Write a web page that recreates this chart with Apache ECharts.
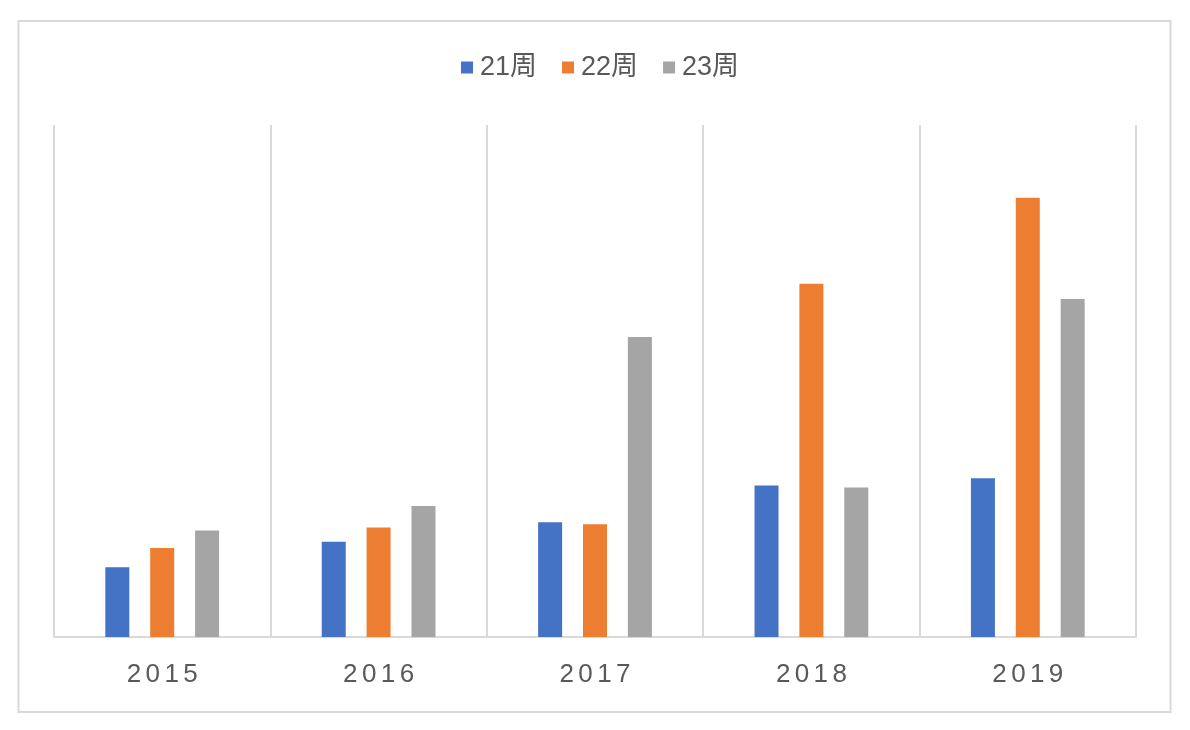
<!DOCTYPE html>
<html>
<head>
<meta charset="utf-8">
<style>
    html, body { margin: 0; padding: 0; background: #fff; }
    #chart { width: 1190px; height: 730px; }
</style>
<script src="https://cdn.jsdelivr.net/npm/echarts@6/dist/echarts.min.js"></script>
</head>
<body>
<div id="chart"></div>
<script>
const years = ['2015', '2016', '2017', '2018', '2019']
const week21 = [6.8, 9.3, 11.2, 14.8, 15.5]
const week22 = [8.7, 10.7, 11.0, 34.5, 42.9]
const week23 = [10.4, 12.8, 29.3, 14.6, 33.0]

const fontFamily = '"Liberation Sans", "Noto Sans CJK SC", sans-serif'
const chart = echarts.init(document.getElementById('chart'))

// excel draws the year labels with wide letter spacing
const spaced = (value) => value.split('').map((c) => `{d|${c}}`).join('')

chart.setOption({
    animation: false,
    textStyle: { fontFamily },
    graphic: [
        {
            type: 'rect',
            shape: { x: 18.5, y: 21, width: 1152, height: 691 },
            style: { fill: 'none', stroke: '#d9d9d9', lineWidth: 2 },
            silent: true,
        },
    ],
    legend: {
        top: 54,
        left: 461,
        padding: 0,
        itemWidth: 12,
        itemHeight: 12,
        itemGap: 25,
        icon: 'rect',
        textStyle: {
            color: '#595959',
            fontSize: 27,
            fontFamily,
            padding: [0, 0, 0, 2],
        },
    },
    grid: {
        left: 54,
        right: 54,
        top: 125,
        bottom: 93,
    },
    xAxis: {
        type: 'category',
        data: years,
        axisLine: {
            lineStyle: { color: '#d9d9d9', width: 2 },
        },
        axisTick: { show: false },
        splitLine: {
            show: true,
            interval: 0,
            lineStyle: { color: '#d9d9d9', width: 2 },
        },
        axisLabel: {
            interval: 0,
            color: '#595959',
            fontSize: 26,
            margin: 25,
            fontFamily,
            formatter: spaced,
            rich: {
                d: {
                    color: '#595959',
                    fontSize: 26,
                    fontFamily,
                    padding: [0, 2.2, 0, 2.2],
                },
            },
        },
    },
    yAxis: {
        type: 'value',
        min: 0,
        max: 50,
        show: false,
        splitLine: { show: false },
    },
    series: [
        {
            name: '21周',
            type: 'bar',
            data: week21,
            barWidth: 24,
            barGap: '87%',
            itemStyle: { color: '#4472c4' },
        },
        {
            name: '22周',
            type: 'bar',
            data: week22,
            barWidth: 24,
            itemStyle: { color: '#ed7d31' },
        },
        {
            name: '23周',
            type: 'bar',
            data: week23,
            barWidth: 24,
            itemStyle: { color: '#a5a5a5' },
        },
    ],
})
</script>
</body>
</html>
